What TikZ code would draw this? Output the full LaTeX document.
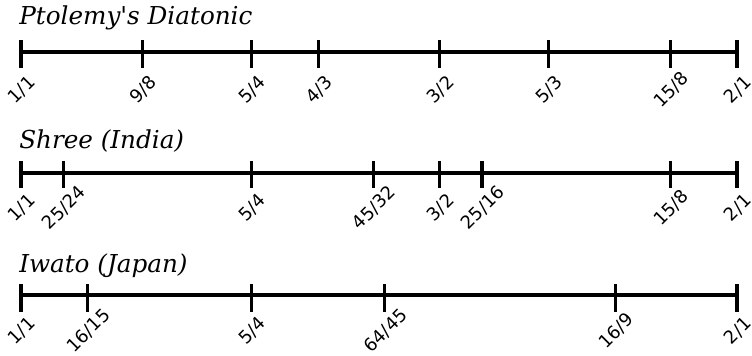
\documentclass[tikz,border=0pt]{standalone}
\usepackage{fontspec}
\newfontfamily\ratiofont{DejaVu Sans}
\newfontfamily\namefont{DejaVu Serif}
\usetikzlibrary{positioning}

\begin{document}
\begin{tikzpicture}[
x=0.75pt, y=-0.75pt,
scaleline/.style={line width=2.3pt},
tick/.style={line width=2.4pt},
ratio/.style={font=\ratiofont\fontsize{13.5}{13.5}\selectfont, rotate=45, anchor=center, inner sep=0pt},
scalename/.style={font=\namefont\itshape\fontsize{18.5}{18.5}\selectfont, anchor=base west, inner sep=0pt}
]
    \useasboundingbox (0,0) rectangle (752,356);

    % Ptolemy's Diatonic
    \node[scalename] (ptolemy) at (19,25) {Ptolemy\textquotesingle s Diatonic};
    \draw[scaleline] (21,52) coordinate (p0) -- (737,52) coordinate (p1);
    \foreach \n/\d in {1/1,9/8,5/4,4/3,3/2,5/3,15/8,2/1}{
        \pgfmathsetmacro{\px}{21+716*ln(\n/\d)/ln(2)}
        \draw[tick] (\px,40) coordinate (p-\n-\d) -- (\px,68);
        \node[ratio] (pl-\n-\d) at (\px+1,90) {\n/\d};
    }

    % Shree (India)
    \node[scalename] (shree) at (19,148) {Shree (India)};
    \draw[scaleline] (21,173) coordinate (s0) -- (737,173) coordinate (s1);
    \foreach \n/\d in {1/1,25/24,5/4,45/32,3/2,25/16,15/8,2/1}{
        \pgfmathsetmacro{\px}{21+716*ln(\n/\d)/ln(2)}
        \draw[tick] (\px,161) coordinate (s-\n-\d) -- (\px,188);
        \node[ratio] (sl-\n-\d) at (\px+1,208) {\n/\d};
    }

    % Iwato (Japan)
    \node[scalename] (iwato) at (19,272) {Iwato (Japan)};
    \draw[scaleline] (21,295) coordinate (i0) -- (737,295) coordinate (i1);
    \foreach \n/\d in {1/1,16/15,5/4,64/45,16/9,2/1}{
        \pgfmathsetmacro{\px}{21+716*ln(\n/\d)/ln(2)}
        \draw[tick] (\px,284) coordinate (i-\n-\d) -- (\px,312);
        \node[ratio] (il-\n-\d) at (\px+1,331) {\n/\d};
    }
\end{tikzpicture}
\end{document}
